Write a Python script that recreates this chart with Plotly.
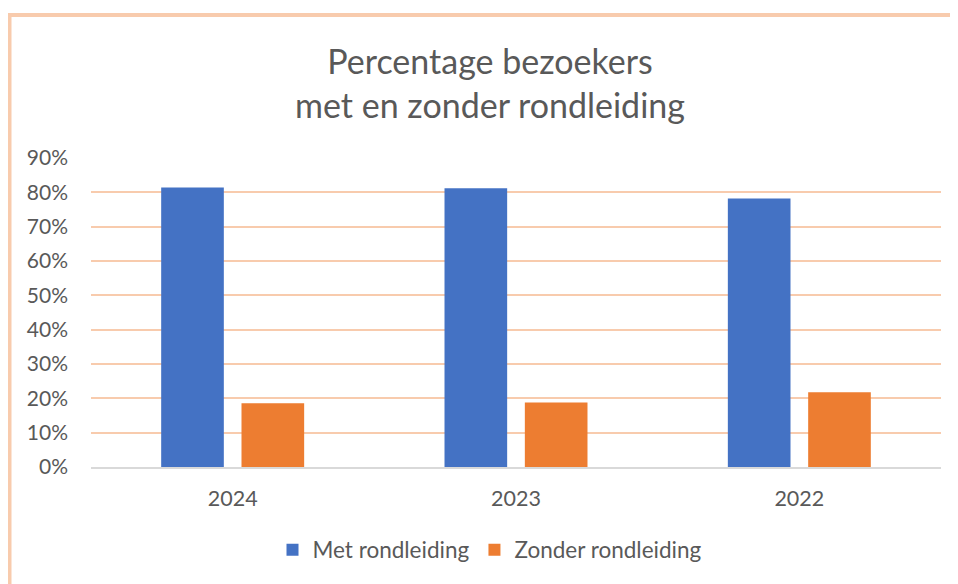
import plotly.graph_objects as go

years = ["2024", "2023", "2022"]
met_rondleiding = [0.814, 0.812, 0.782]
zonder_rondleiding = [0.186, 0.188, 0.218]
series_names = ["Met rondleiding", "Zonder rondleiding"]
title_lines = ["Percentage bezoekers", "met en zonder rondleiding"]

OFF = 8  # page body margin
W, H = 958 - OFF, 584 - OFF
# plot area in page pixels: x 91..941, y 158..467
L = 91 - OFF
T = 158 - OFF
R = W - (941 - OFF)
B = H - (467 - OFF)
pw, ph = W - L - R, H - T - B

def px_x(x):  # page x -> paper
    return (x - OFF - L) / pw

def px_y(y):  # page y -> paper
    return (H - B - (y - OFF)) / ph

FONT = "Lato"
GRAY = "#595959"
PEACH = "#F8CBAD"

fig = go.Figure()
fig.add_bar(x=years, y=met_rondleiding, name=series_names[0], marker_color="#4472C4",
            marker_line_width=0)
fig.add_bar(x=years, y=zonder_rondleiding, name=series_names[1], marker_color="#ED7D31",
            marker_line_width=0)

fig.update_layout(
    width=W, height=H,
    margin=dict(l=L, r=R, t=T, b=B),
    paper_bgcolor="white", plot_bgcolor="white",
    barmode="group", bargap=0.433, bargroupgap=0.22,
    font=dict(family=FONT, color=GRAY, size=21),
    title=dict(text="<br>".join(title_lines), x=px_x(490), xref="paper", xanchor="center",
               y=1 - (74 - OFF) / H, yanchor="middle", yref="container",
               font=dict(family=FONT, size=34, color=GRAY, weight=400)),
    showlegend=True,
    legend=dict(orientation="h", x=px_x(490), xanchor="center", y=px_y(550), yanchor="middle",
                font=dict(size=22.5, color=GRAY), itemsizing="constant", traceorder="normal"),
    xaxis=dict(showline=True, linecolor="#D9D9D9", linewidth=2, showgrid=False,
               ticks="", ticklabelstandoff=11, tickfont=dict(size=21.5, color=GRAY)),
    yaxis=dict(range=[0, 0.9], dtick=0.1, tickformat=".0%", showgrid=True,
               gridcolor=PEACH, gridwidth=2, zeroline=False, showline=False,
               ticks="", ticklabelstandoff=22, tickfont=dict(size=21, color=GRAY)),
    shapes=[
        dict(type="line", xref="paper", yref="paper", x0=px_x(9.5), x1=px_x(9.5),
             y0=px_y(13), y1=px_y(600), line=dict(color=PEACH, width=4), layer="above"),
        dict(type="line", xref="paper", yref="paper", x0=px_x(8), x1=px_x(970),
             y0=px_y(15), y1=px_y(15), line=dict(color=PEACH, width=4), layer="above"),
    ],
)

fig.write_html("out.html")
